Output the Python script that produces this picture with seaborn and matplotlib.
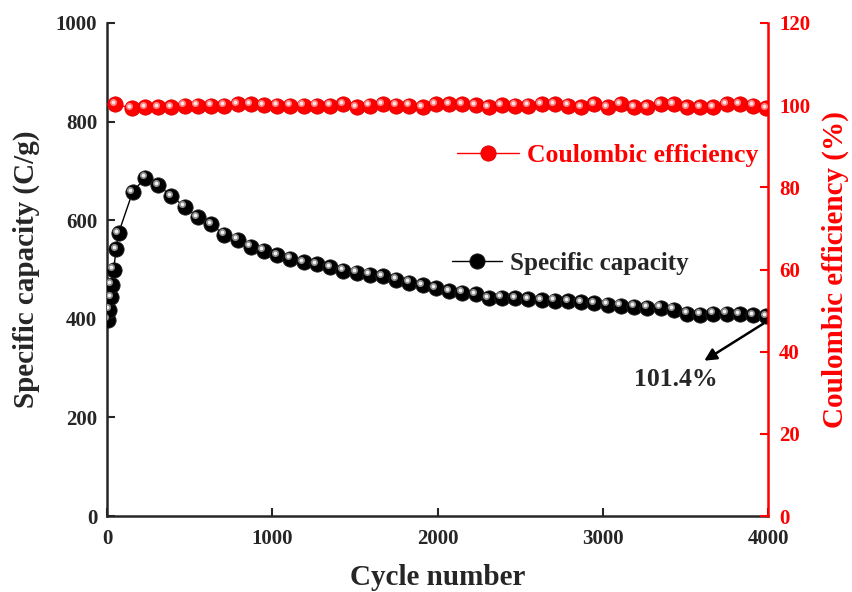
import matplotlib
matplotlib.use("Agg")
import matplotlib.pyplot as plt
from matplotlib.transforms import ScaledTranslation
import numpy as np
import pandas as pd
import seaborn as sns

# ---------------- data ----------------
cap_cycles = [5, 15, 25, 30, 40, 55, 70, 155,
              230, 310, 390, 470, 550, 630, 710, 790, 870, 950,
              1030, 1110, 1190, 1270, 1350, 1430, 1510, 1590, 1670, 1750,
              1830, 1910, 1990, 2070, 2150, 2230, 2310, 2390, 2470, 2550,
              2630, 2710, 2790, 2870, 2950, 3030, 3110, 3190, 3270, 3350,
              3430, 3510, 3590, 3670, 3750, 3830, 3910, 3990]
capacity = [398, 418, 444, 469, 499, 541, 574, 657,
            686, 671, 649, 627, 606, 592, 570, 560, 546, 538,
            529, 522, 515, 511, 505, 497, 493, 489, 486, 479,
            473, 468, 462, 456, 453, 450, 442, 443, 442, 440,
            438, 437, 436, 434, 432, 429, 426, 424, 422, 422,
            418, 410, 408, 410, 410, 409, 407, 405]

ce_cycles = [50, 150, 230, 310, 390, 470, 550, 630, 710, 790, 870, 950,
             1030, 1110, 1190, 1270, 1350, 1430, 1510, 1590, 1670, 1750,
             1830, 1910, 1990, 2070, 2150, 2230, 2310, 2390, 2470, 2550,
             2630, 2710, 2790, 2870, 2950, 3030, 3110, 3190, 3270, 3350,
             3430, 3510, 3590, 3670, 3750, 3830, 3910, 3990]
efficiency = [100.2, 99.3, 99.5, 99.5, 99.5, 99.8, 99.8, 99.8, 99.8, 100.2,
              100.2, 100.0, 99.8, 99.8, 99.8, 99.8,
              99.8, 100.2, 99.5, 99.8, 100.2, 99.8, 99.8, 99.5, 100.2, 100.2,
              100.2, 100.0, 99.5, 100.0, 99.8, 99.8, 100.2,
              100.2, 99.8, 99.5, 100.2, 99.5, 100.2, 99.5, 99.5, 100.2, 100.2,
              99.5, 99.5, 99.5, 100.2, 100.2, 99.8, 99.3]

x_ticks = [0, 1000, 2000, 3000, 4000]
left_ticks = [0, 200, 400, 600, 800, 1000]
right_ticks = [0, 20, 40, 60, 80, 100, 120]

df_cap = pd.DataFrame({"cycle": cap_cycles, "cap": capacity})
df_ce = pd.DataFrame({"cycle": ce_cycles, "ce": efficiency})

# ---------------- style ----------------
sns.set_style("ticks")
plt.rcParams["font.family"] = ["Liberation Serif", "DejaVu Serif"]
plt.rcParams["font.weight"] = "bold"
plt.rcParams["axes.labelweight"] = "bold"

RED = "#ff0000"
fig = plt.figure(figsize=(8.52, 5.92), dpi=100)
ax = fig.add_axes([107 / 852, 1 - 516 / 592, 661 / 852, 493 / 592])
ax2 = ax.twinx()

MS = 11
hl = ScaledTranslation(-1.8 / 72, 1.8 / 72, fig.dpi_scale_trans)

# capacity (black balls)
sns.lineplot(data=df_cap, x="cycle", y="cap", ax=ax, color="black", lw=1,
             marker="o", markersize=MS, markerfacecolor="black",
             markeredgecolor="#222222", markeredgewidth=0.6,
             label="Specific capacity", legend=False, zorder=3)
sns.scatterplot(data=df_cap, x="cycle", y="cap", ax=ax, color="#8a8a8a",
                s=26, linewidth=0, transform=ax.transData + hl, zorder=4,
                legend=False)
sns.scatterplot(data=df_cap, x="cycle", y="cap", ax=ax, color="#f2f2f2",
                s=7, linewidth=0, transform=ax.transData + hl, zorder=5,
                legend=False)

# coulombic efficiency (red balls)
sns.lineplot(data=df_ce, x="cycle", y="ce", ax=ax2, color=RED, lw=1,
             marker="o", markersize=MS, markerfacecolor=RED,
             markeredgecolor="#e00000", markeredgewidth=0.6,
             label="Coulombic efficiency", legend=False, zorder=3)
sns.scatterplot(data=df_ce, x="cycle", y="ce", ax=ax2, color="#ff8080",
                s=26, linewidth=0, transform=ax2.transData + hl, zorder=4,
                legend=False)
sns.scatterplot(data=df_ce, x="cycle", y="ce", ax=ax2, color="#ffe6e6",
                s=7, linewidth=0, transform=ax2.transData + hl, zorder=5,
                legend=False)

# ---------------- axes ----------------
ax.set_xlim(0, 4000)
ax.set_ylim(0, 1000)
ax2.set_ylim(0, 120)
ax.set_xticks(x_ticks)
ax.set_yticks(left_ticks)
ax2.set_yticks(right_ticks)
ax.set_xticklabels([str(v) for v in x_ticks])
ax.set_yticklabels([str(v) for v in left_ticks])
ax2.set_yticklabels([str(v) for v in right_ticks])

for s in ["top", "right"]:
    ax.spines[s].set_visible(False)
for s in ["top", "left", "bottom"]:
    ax2.spines[s].set_visible(False)
ax.spines["left"].set_linewidth(1.8)
ax.spines["bottom"].set_linewidth(1.8)
ax2.spines["right"].set_linewidth(1.8)
ax2.spines["right"].set_color(RED)

ax.tick_params(axis="y", direction="in", length=6, width=1.5,
               labelsize=15, pad=7, left=True)
ax.tick_params(axis="x", direction="in", length=6, width=1.5,
               labelsize=15, pad=9, bottom=True)
ax2.tick_params(axis="y", direction="in", length=6, width=1.5,
                labelsize=15, pad=8, colors=RED, right=True)
for lab in ax.get_xticklabels() + ax.get_yticklabels() + ax2.get_yticklabels():
    lab.set_fontweight("bold")

ax.set_xlabel("Cycle number", fontsize=21, fontweight="bold", labelpad=11)
ax.set_ylabel("Specific capacity (C/g)", fontsize=21, fontweight="bold", labelpad=11)
ax2.set_ylabel("Coulombic efficiency (%)", fontsize=21, fontweight="bold",
               color=RED, labelpad=8)

# ---------------- legends ----------------
leg1 = ax2.legend(loc="center left", bbox_to_anchor=(0.53, 0.732),
                  frameon=False, fontsize=18.5, handlelength=2.4,
                  handletextpad=0.3, borderpad=0, borderaxespad=0)
for t in leg1.get_texts():
    t.set_color(RED)
    t.set_fontweight("bold")
h, l = ax.get_legend_handles_labels()
leg2 = ax.legend(h[:1], l[:1], loc="center left", bbox_to_anchor=(0.522, 0.513),
                 frameon=False, fontsize=18, handlelength=2.0,
                 handletextpad=0.3, borderpad=0, borderaxespad=0)
for t in leg2.get_texts():
    t.set_fontweight("bold")

# ---------------- annotation ----------------
ax.annotate("", xy=(3600, 312), xytext=(3985, 393),
            arrowprops=dict(arrowstyle="-|>", color="black", lw=1.8,
                            mutation_scale=18), zorder=6)
ax.text(3440, 276, "101.4%", fontsize=18.5, fontweight="bold",
        ha="center", va="center")

fig.savefig("out.png", dpi=100)
